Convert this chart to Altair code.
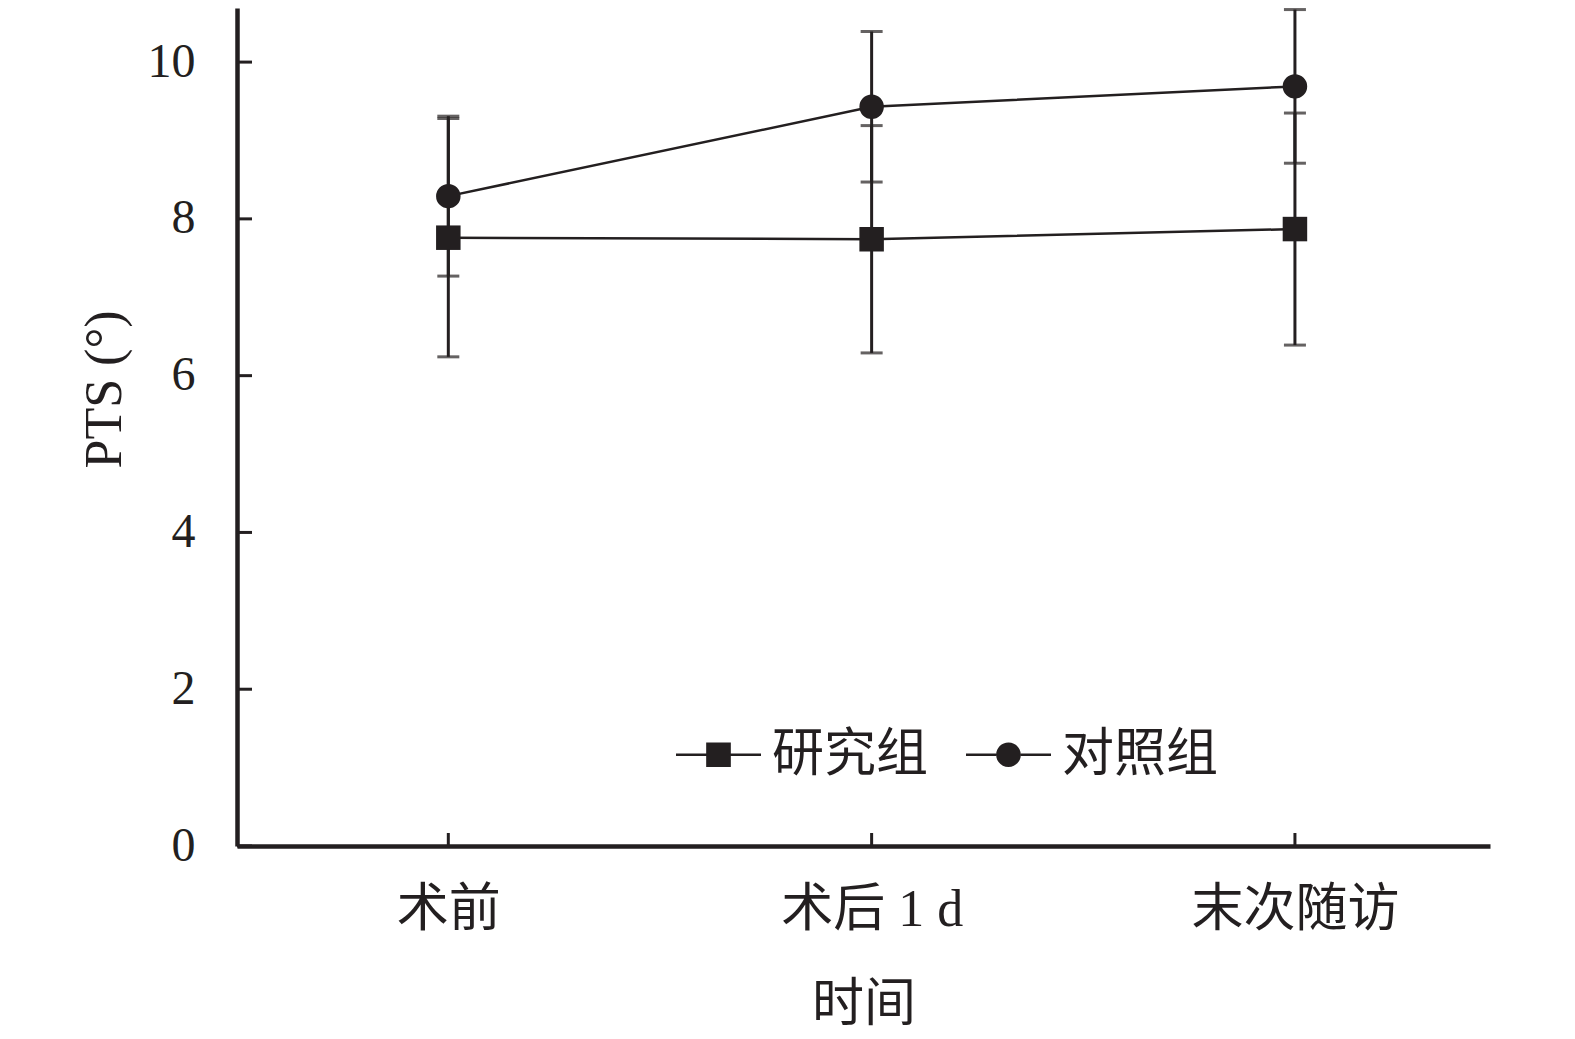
import altair as alt
import pandas as pd

# ---- data ----
categories = ["术前", "术后 1 d", "末次随访"]
groups = ["研究组", "对照组"]
study_mean = [7.76, 7.74, 7.87]
study_sd = [1.52, 1.45, 1.48]
control_mean = [8.29, 9.43, 9.69]
control_sd = [1.02, 0.96, 0.98]
y_ticks = [0, 2, 4, 6, 8, 10]

INK = "#231f20"
FONT = "Liberation Serif, Noto Sans CJK SC"
W, H = 1253, 838

rows = []
for g, means, sds in [(groups[0], study_mean, study_sd), (groups[1], control_mean, control_sd)]:
    for c, m, s in zip(categories, means, sds):
        rows.append({"time": c, "group": g, "mean": m, "lo": m - s, "hi": m + s})
df = pd.DataFrame(rows)
ytick_df = pd.DataFrame({"mean": y_ticks})
xtick_df = pd.DataFrame({"time": categories})

x_enc = alt.X(
    "time:N",
    sort=categories,
    scale=alt.Scale(type="point", padding=0.48, align=0.52),
    axis=alt.Axis(
        title="时间",
        labelAngle=0,
        ticks=False,
        domainWidth=4.5,
        domainColor=INK,
        labelFont=FONT,
        labelFontSize=52,
        labelColor=INK,
        labelPadding=38,
        labelLimit=0,
        titleFont=FONT,
        titleFontSize=52,
        titleFontWeight="normal",
        titleColor=INK,
        titlePadding=44,
    ),
)
y_enc = alt.Y(
    "mean:Q",
    scale=alt.Scale(domain=[0, 10.69], nice=False, zero=True),
    axis=alt.Axis(
        title="PTS (°)",
        values=y_ticks,
        format="d",
        ticks=False,
        grid=False,
        domainWidth=4.5,
        domainColor=INK,
        labelFont=FONT,
        labelFontSize=48,
        labelColor=INK,
        labelPadding=42,
        titleFont=FONT,
        titleFontSize=52,
        titleFontWeight="normal",
        titleColor=INK,
        titlePadding=16,
        titleY=381,
    ),
)

base = alt.Chart(df)

err = base.mark_rule(strokeWidth=3, color=INK).encode(
    x=x_enc, y=alt.Y("lo:Q"), y2="hi:Q", detail="group:N"
)
cap_lo = base.mark_tick(size=22, thickness=3, color=INK).encode(x=x_enc, y=alt.Y("lo:Q"))
cap_hi = base.mark_tick(size=22, thickness=3, color=INK).encode(x=x_enc, y=alt.Y("hi:Q"))

lines = base.mark_line(strokeWidth=2.5, color=INK).encode(
    x=x_enc, y=y_enc, detail="group:N"
)
points = base.mark_point(filled=True, size=600, opacity=1, color=INK).encode(
    x=x_enc,
    y=y_enc,
    shape=alt.Shape(
        "group:N",
        scale=alt.Scale(domain=groups, range=["square", "circle"]),
        legend=None,
    ),
)

# legend glyphs drawn entirely as filled shapes: two thin bars plus a square / circle
bars = "M-1,-0.03L-0.29,-0.03L-0.29,0.03L-1,0.03Z M0.29,-0.03L1,-0.03L1,0.03L0.29,0.03Z "
sq_path = bars + "M-0.29,-0.29L0.29,-0.29L0.29,0.29L-0.29,0.29Z"
ci_path = bars + "M-0.29,0A0.29,0.29 0 1,0 0.29,0A0.29,0.29 0 1,0 -0.29,0Z"

# legend-only layer: its rows are filtered out, the legend comes from the shape scale domain
legend_layer = (
    base.transform_filter("datum.mean < 0")
    .mark_point(filled=True, opacity=1, color=INK)
    .encode(
        x=x_enc,
        y=y_enc,
        shape=alt.Shape(
            "group:N",
            scale=alt.Scale(domain=groups, range=[sq_path, ci_path]),
            legend=alt.Legend(
                title=None,
                orient="none",
                legendX=438,
                legendY=703,
                direction="horizontal",
                padding=0,
                symbolSize=7225,
                symbolOpacity=1,
                symbolFillColor=INK,
                labelFont=FONT,
                labelFontSize=52,
                labelColor=INK,
                labelOffset=10,
                labelLimit=400,
                columnPadding=34,
            ),
        ),
    )
)

ytick_rules = alt.Chart(ytick_df).mark_rule(strokeWidth=3, color=INK).encode(
    y=alt.Y("mean:Q"), x=alt.value(0), x2=alt.value(15)
)
xtick_rules = alt.Chart(xtick_df).mark_rule(strokeWidth=3, color=INK).encode(
    x=alt.X("time:N", sort=categories), y=alt.value(H - 13), y2=alt.value(H)
)

chart = (
    alt.layer(err, cap_lo, cap_hi, lines, points, legend_layer, ytick_rules, xtick_rules)
    .resolve_scale(shape="independent")
    .properties(
        width=W,
        height=H,
        autosize=alt.AutoSizeParams(type="none"),
        padding={"left": 229, "top": 0, "right": 60, "bottom": 185},
        background="white",
    )
    .configure_view(stroke=None)
)

chart.save("out.html", embed_options={"renderer": "svg", "actions": False})
